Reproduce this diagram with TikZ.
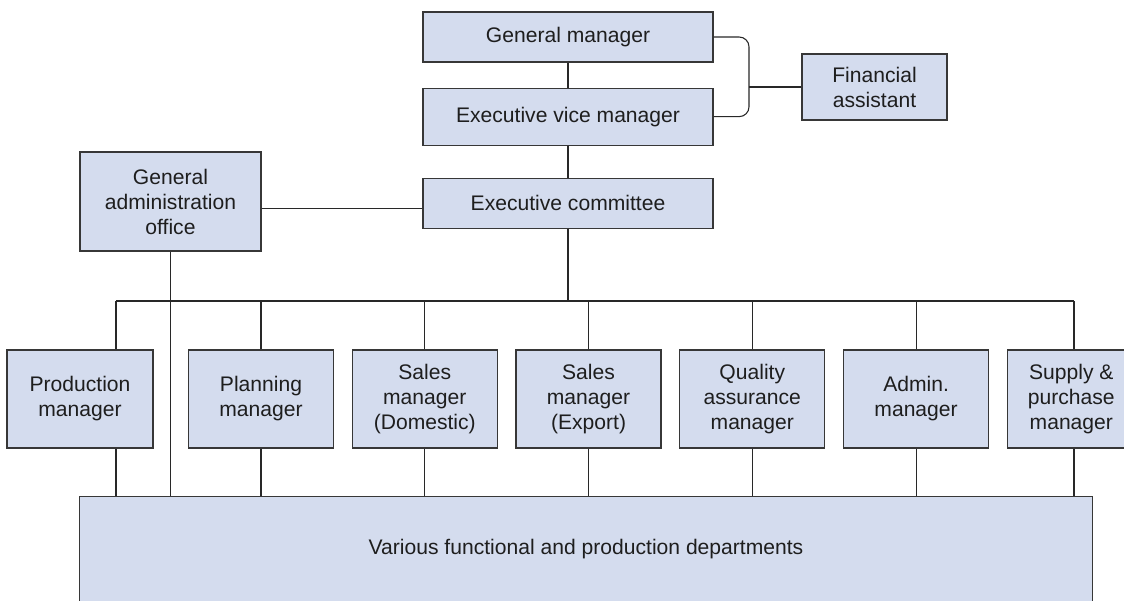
\documentclass[tikz,border=0pt]{standalone}
\usepackage{fontspec}
\setmainfont{Liberation Sans}
\usetikzlibrary{positioning}

\definecolor{boxfill}{RGB}{212,220,238}
\definecolor{boxline}{RGB}{55,55,55}
\definecolor{linkline}{RGB}{40,40,40}
\definecolor{boxtext}{RGB}{30,30,30}

\begin{document}
\begin{tikzpicture}[x=0.025cm, y=-0.025cm,
                unit/.style={rectangle, draw=boxline, fill=boxfill, line width=0.8pt, inner sep=0pt, align=center,
                             text=boxtext, font=\fontsize{15}{17.8}\selectfont},
                head/.style={unit, minimum width=7.25cm, minimum height=1.25cm},
                manager/.style={unit, minimum width=3.625cm, minimum height=2.45cm},
                link/.style={draw=linkline, line width=0.75pt}
            ]
                \useasboundingbox (0,0) rectangle (1124,600);
                \clip (0,0) rectangle (1124,600);

                % Nodes: top management
                \node[head] (gm) at (568,37) {General manager};
                \node[head, below = 0.625cm of gm, minimum height=1.425cm] (evm) {Executive vice manager};
                \node[head, below = 0.8cm of evm] (ec) {Executive committee};
                \node[unit, minimum width=3.625cm, minimum height=1.65cm] (fa) at (874.5,87) {Financial\\assistant};
                \node[unit, minimum width=4.525cm, minimum height=2.475cm] (gao) at (170.5,201.5) {General\\administration\\office};

                % Nodes: managers
                \node[manager, minimum width=3.65cm] (prod) at (80,399) {Production\\manager};
                \node[manager] (plan) at (261,399) {Planning\\manager};
                \node[manager, right = 0.44cm of plan] (dom) {Sales\\manager\\(Domestic)};
                \node[manager, right = 0.44cm of dom] (exp) {Sales\\manager\\(Export)};
                \node[manager, right = 0.44cm of exp] (qa) {Quality\\assurance\\manager};
                \node[manager, right = 0.44cm of qa] (adm) {Admin.\\manager};
                \node[manager, right = 0.44cm of adm, minimum width=3.2cm] (sup) {Supply \&\\purchase\\manager};

                \node[unit, minimum width=25.3cm, minimum height=2.65cm] (dep) at (586,549.5) {Various functional and production departments};

                % Paths: top chain
                \draw[link] (gm) -- (evm);
                \draw[link] (evm) -- (ec);
                \coordinate (brk) at (749,87);
                \draw[link, rounded corners=7pt] (gm.east) -| (brk) |- (evm.east);
                \draw[link] (brk) -- (fa.west);
                \draw[link] ([yshift=-5pt]gao.east) -- ([yshift=-5pt]gao.east -| ec.west);

                % Paths: bus to managers
                \coordinate (busL) at (116,301);
                \coordinate (busR) at (1074,301);
                \draw[link] (busL) -- (busR);
                \draw[link] (ec.south) -- (ec.south |- busL);
                \draw[link] (busL) -- (busL |- prod.north);
                \draw[link] (busL |- prod.south) -- (busL |- dep.north);
                \draw[link] (busR) -- (busR |- sup.north);
                \draw[link] (busR |- sup.south) -- (busR |- dep.north);
                \foreach \m in {plan, dom, exp, qa, adm} {
                    \draw[link] (\m.north |- busL) -- (\m.north);
                    \draw[link] (\m.south) -- (\m.south |- dep.north);
                }

                % Paths: administration office to departments
                \draw[link] (gao.south) -- (gao.south |- dep.north);
            \end{tikzpicture}
\end{document}
